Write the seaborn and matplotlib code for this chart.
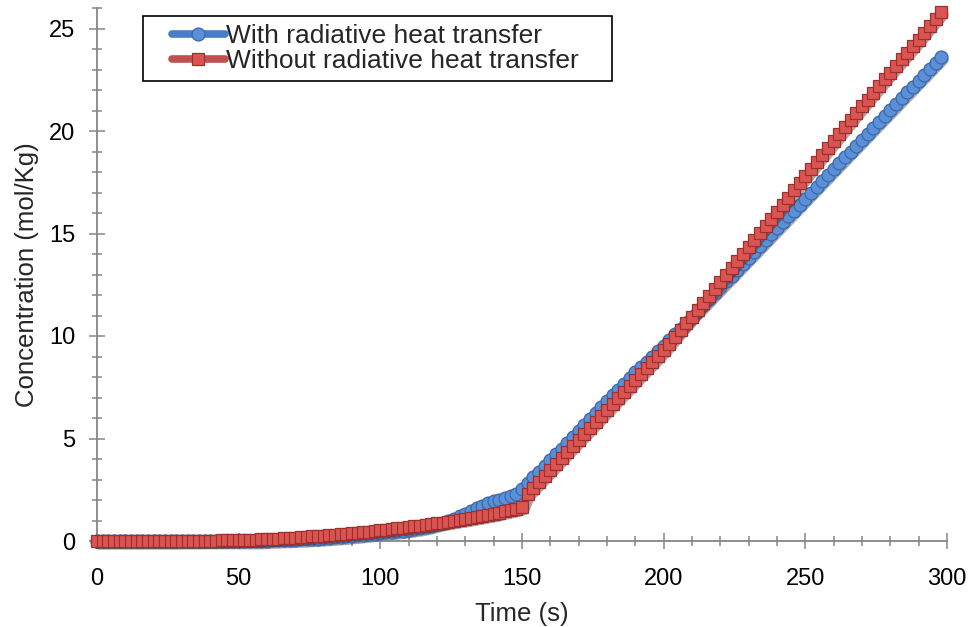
import numpy as np
import pandas as pd
import matplotlib
matplotlib.use("Agg")
import matplotlib.pyplot as plt
from matplotlib.ticker import MultipleLocator
from matplotlib.transforms import offset_copy
from matplotlib.legend_handler import HandlerLine2D
import seaborn as sns

# ---------------- data ----------------
time_s = np.arange(0, 300, 2)

with_radiative = [
    0.00, 0.00, 0.00, 0.00, 0.00, 0.00, 0.00, 0.00, 0.00, 0.00,
    0.00, 0.00, 0.00, 0.00, 0.00, 0.00, 0.00, 0.00, 0.00, 0.00,
    0.00, 0.00, 0.00, 0.00, 0.00, 0.00, 0.00, 0.00, 0.00, 0.00,
    0.02, 0.03, 0.04, 0.05, 0.06, 0.07, 0.08, 0.09, 0.11, 0.12,
    0.14, 0.16, 0.18, 0.20, 0.22, 0.25, 0.27, 0.30, 0.33, 0.36,
    0.39, 0.42, 0.45, 0.48, 0.51, 0.55, 0.59, 0.63, 0.68, 0.74,
    0.81, 0.89, 0.98, 1.08, 1.20, 1.32,
    1.46, 1.60, 1.72, 1.83, 1.93, 2.02, 2.10, 2.18, 2.30,
    2.55, 2.82, 3.10, 3.38, 3.66, 3.94, 4.22, 4.50, 4.79, 5.08,
    5.37, 5.66, 5.95, 6.24, 6.53, 6.82, 7.10, 7.38, 7.66, 7.94,
    8.22, 8.48, 8.74, 9.00, 9.25, 9.50,
    9.79, 10.08, 10.36, 10.65, 10.94, 11.23, 11.51, 11.80, 12.09, 12.38,
    12.67, 12.95, 13.24, 13.53, 13.82, 14.10, 14.39, 14.68, 14.97, 15.26,
    15.54, 15.83, 16.12, 16.41, 16.70, 16.99, 17.27, 17.56, 17.85, 18.14,
    18.42, 18.71, 19.00, 19.29, 19.57, 19.86, 20.15, 20.44, 20.73, 21.01,
    21.30, 21.59, 21.88, 22.16, 22.45, 22.74, 23.03, 23.32, 23.60,
]

without_radiative = [
    0.00, 0.00, 0.00, 0.00, 0.00, 0.00, 0.00, 0.00, 0.00, 0.00,
    0.00, 0.00, 0.00, 0.00, 0.00,
    0.01, 0.01, 0.01, 0.01, 0.02, 0.02, 0.02, 0.03, 0.03, 0.04,
    0.05, 0.05, 0.06, 0.07, 0.08,
    0.10, 0.11, 0.12, 0.14, 0.15, 0.17, 0.19, 0.20, 0.22, 0.24,
    0.26, 0.28, 0.30, 0.33, 0.35, 0.38, 0.41, 0.43, 0.46, 0.49,
    0.52, 0.55, 0.58, 0.62, 0.65, 0.68, 0.72, 0.75, 0.79, 0.82,
    0.86, 0.90, 0.94, 0.98, 1.03, 1.07, 1.12, 1.17, 1.22, 1.27,
    1.32, 1.38, 1.45, 1.51, 1.58, 1.65,
    2.30, 2.59, 2.88, 3.18, 3.47, 3.76, 4.05, 4.34, 4.64, 4.93,
    5.22, 5.51, 5.80, 6.10, 6.39, 6.68, 6.97, 7.26, 7.56, 7.85,
    8.14, 8.43, 8.72, 9.01, 9.30,
    9.63, 9.96, 10.29, 10.62, 10.95, 11.29, 11.63, 11.97, 12.31, 12.65,
    12.99, 13.33, 13.67, 14.01, 14.35, 14.69, 15.03, 15.37, 15.71, 16.05,
    16.40, 16.75, 17.10, 17.45, 17.80, 18.14, 18.48, 18.82, 19.16, 19.50,
    19.84, 20.18, 20.52, 20.86, 21.20, 21.53, 21.86, 22.19, 22.52, 22.85,
    23.17, 23.49, 23.81, 24.13, 24.45, 24.79, 25.12, 25.46, 25.80,
]

series_names = ["With radiative heat transfer", "Without radiative heat transfer"]
x_ticks = [0, 50, 100, 150, 200, 250, 300]
y_ticks = [0, 5, 10, 15, 20, 25]

assert len(with_radiative) == len(time_s) == len(without_radiative)

df_with = pd.DataFrame({"Time": time_s, "Conc": with_radiative})
df_without = pd.DataFrame({"Time": time_s, "Conc": without_radiative})

# ---------------- style ----------------
sns.set_theme(style="white")
plt.rcParams["font.family"] = ["Liberation Sans", "DejaVu Sans"]

fig = plt.figure(figsize=(9.74, 6.27), dpi=100)
ax = fig.add_axes([97 / 974, 1 - 541 / 627, 850 / 974, 533 / 627])

shadow_tr = offset_copy(ax.transData, fig=fig, x=1.5, y=-2.5, units="dots")

# blue series: soft shadow band, then markers
sns.lineplot(data=df_with, x="Time", y="Conc", ax=ax, color="#222222",
             alpha=0.4, linewidth=8.5, transform=shadow_tr, clip_on=False,
             solid_capstyle="round", solid_joinstyle="round", zorder=2)
sns.lineplot(data=df_with, x="Time", y="Conc", ax=ax, color="#4A7EC4",
             linewidth=5.5, marker="o", markersize=9.3,
             markerfacecolor="#5B90D6", markeredgecolor="#3A68AC",
             markeredgewidth=0.9, clip_on=False, zorder=3)
# red series
sns.lineplot(data=df_without, x="Time", y="Conc", ax=ax, color="#222222",
             alpha=0.4, linewidth=8.5, transform=shadow_tr, clip_on=False,
             solid_capstyle="round", solid_joinstyle="round", zorder=4)
sns.lineplot(data=df_without, x="Time", y="Conc", ax=ax, color="#C0504D",
             linewidth=5.5, marker="s", markersize=8.8,
             markerfacecolor="#DA5552", markeredgecolor="#9E2F2C",
             markeredgewidth=0.9, clip_on=False, zorder=5)

ax.set_xlim(0, 300)
ax.set_ylim(0, 26)
ax.set_xticks(x_ticks)
ax.set_yticks(y_ticks)
ax.xaxis.set_minor_locator(MultipleLocator(10))
ax.yaxis.set_minor_locator(MultipleLocator(1))

gray = "#868686"
for side in ["top", "right"]:
    ax.spines[side].set_visible(False)
for side in ["left", "bottom"]:
    ax.spines[side].set_color(gray)
    ax.spines[side].set_linewidth(1.3)

ax.tick_params(which="both", bottom=True, left=True, direction="inout",
               color=gray, width=1.1, labelcolor="black")
ax.tick_params(which="major", length=11.5, labelsize=17)
ax.tick_params(which="minor", length=7)
ax.tick_params(axis="x", which="major", pad=14)
ax.tick_params(axis="y", which="major", pad=10)

ax.set_xlabel("Time (s)", fontsize=18.5, labelpad=8)
ax.set_ylabel("Concentration (mol/Kg)", fontsize=18.5, labelpad=7)


class ShiftedLineHandler(HandlerLine2D):
    """Legend line handle that starts a little inside the handle box."""
    def create_artists(self, legend, orig_handle, xdescent, ydescent,
                       width, height, fontsize, trans):
        shift = 0.28 * width
        return super().create_artists(legend, orig_handle, xdescent - shift,
                                      ydescent, width - shift, height,
                                      fontsize, trans)


handles = [ax.lines[1], ax.lines[3]]
leg = ax.legend(handles, series_names, loc="upper left",
                bbox_to_anchor=(0.054, 0.0, (612 - 143) / 850, 0.985),
                mode="expand",
                handler_map={h: ShiftedLineHandler() for h in handles},
                borderaxespad=0, frameon=True, fancybox=False,
                edgecolor="black", framealpha=1, fontsize=19,
                handlelength=2.8, handletextpad=0.05, borderpad=0.3,
                labelspacing=0.05)
leg.get_frame().set_linewidth(1.2)

fig.savefig("out.png", dpi=100)
